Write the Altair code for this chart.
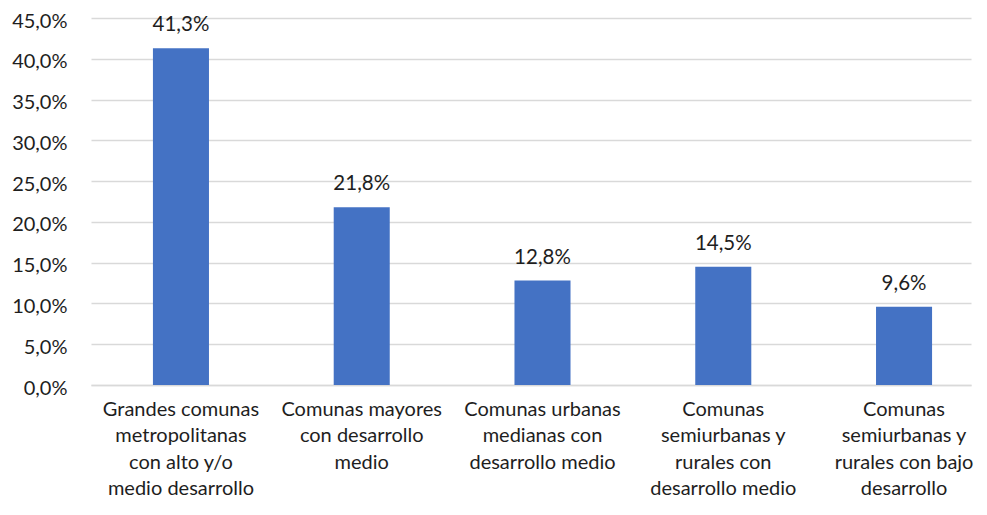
import altair as alt
import pandas as pd

categories = [
    "Grandes comunas|metropolitanas|con alto y/o|medio desarrollo",
    "Comunas mayores|con desarrollo|medio",
    "Comunas urbanas|medianas con|desarrollo medio",
    "Comunas|semiurbanas y|rurales con|desarrollo medio",
    "Comunas|semiurbanas y|rurales con bajo|desarrollo",
]
values = [0.413, 0.218, 0.128, 0.145, 0.096]

df = pd.DataFrame({"cat": categories, "val": values})

FONT = "Lato"
TXT = "#1e1e1e"

x = alt.X(
    "cat:N",
    sort=categories,
    title=None,
    scale=alt.Scale(paddingInner=0.69, paddingOuter=0.279, align=0.614, round=False),
    axis=alt.Axis(
        labelAngle=0,
        labelExpr="split(datum.label, '|')",
        labelFont=FONT,
        labelFontSize=20,
        labelColor=TXT,
        labelLineHeight=26.5,
        labelPadding=14,
        labelBaseline="top",
        ticks=False,
        domainColor="#d9d9d9",
        domainWidth=1.5,
        labelLimit=300,
    ),
)

y = alt.Y(
    "val:Q",
    title=None,
    scale=alt.Scale(domain=[0, 0.45], nice=False),
    axis=alt.Axis(
        values=[i * 0.05 for i in range(10)],
        labelExpr="replace(format(datum.value, '.1%'), '.', ',')",
        labelFont=FONT,
        labelFontSize=20,
        labelColor=TXT,
        labelPadding=24,
        labelOffset=3,
        ticks=False,
        domain=False,
        gridColor="#d9d9d9",
        gridWidth=1.5,
    ),
)

base = alt.Chart(df)

bars = base.mark_bar(color="#4472C4").encode(x=x, y=y)

text = base.transform_calculate(
    lab="replace(format(datum.val, '.1%'), '.', ',')"
).mark_text(
    baseline="bottom", dy=-13, font=FONT, fontSize=20.5, color=TXT
).encode(x=x, y=y, text="lab:N")

chart = (bars + text).properties(
    width=880,
    height=367,
    autosize=alt.AutoSizeParams(type="none"),
    padding={"left": 83, "top": 10, "right": 8, "bottom": 117},
).configure_view(stroke=None)

chart.save("out.html", embed_options={"renderer": "svg", "actions": False})
